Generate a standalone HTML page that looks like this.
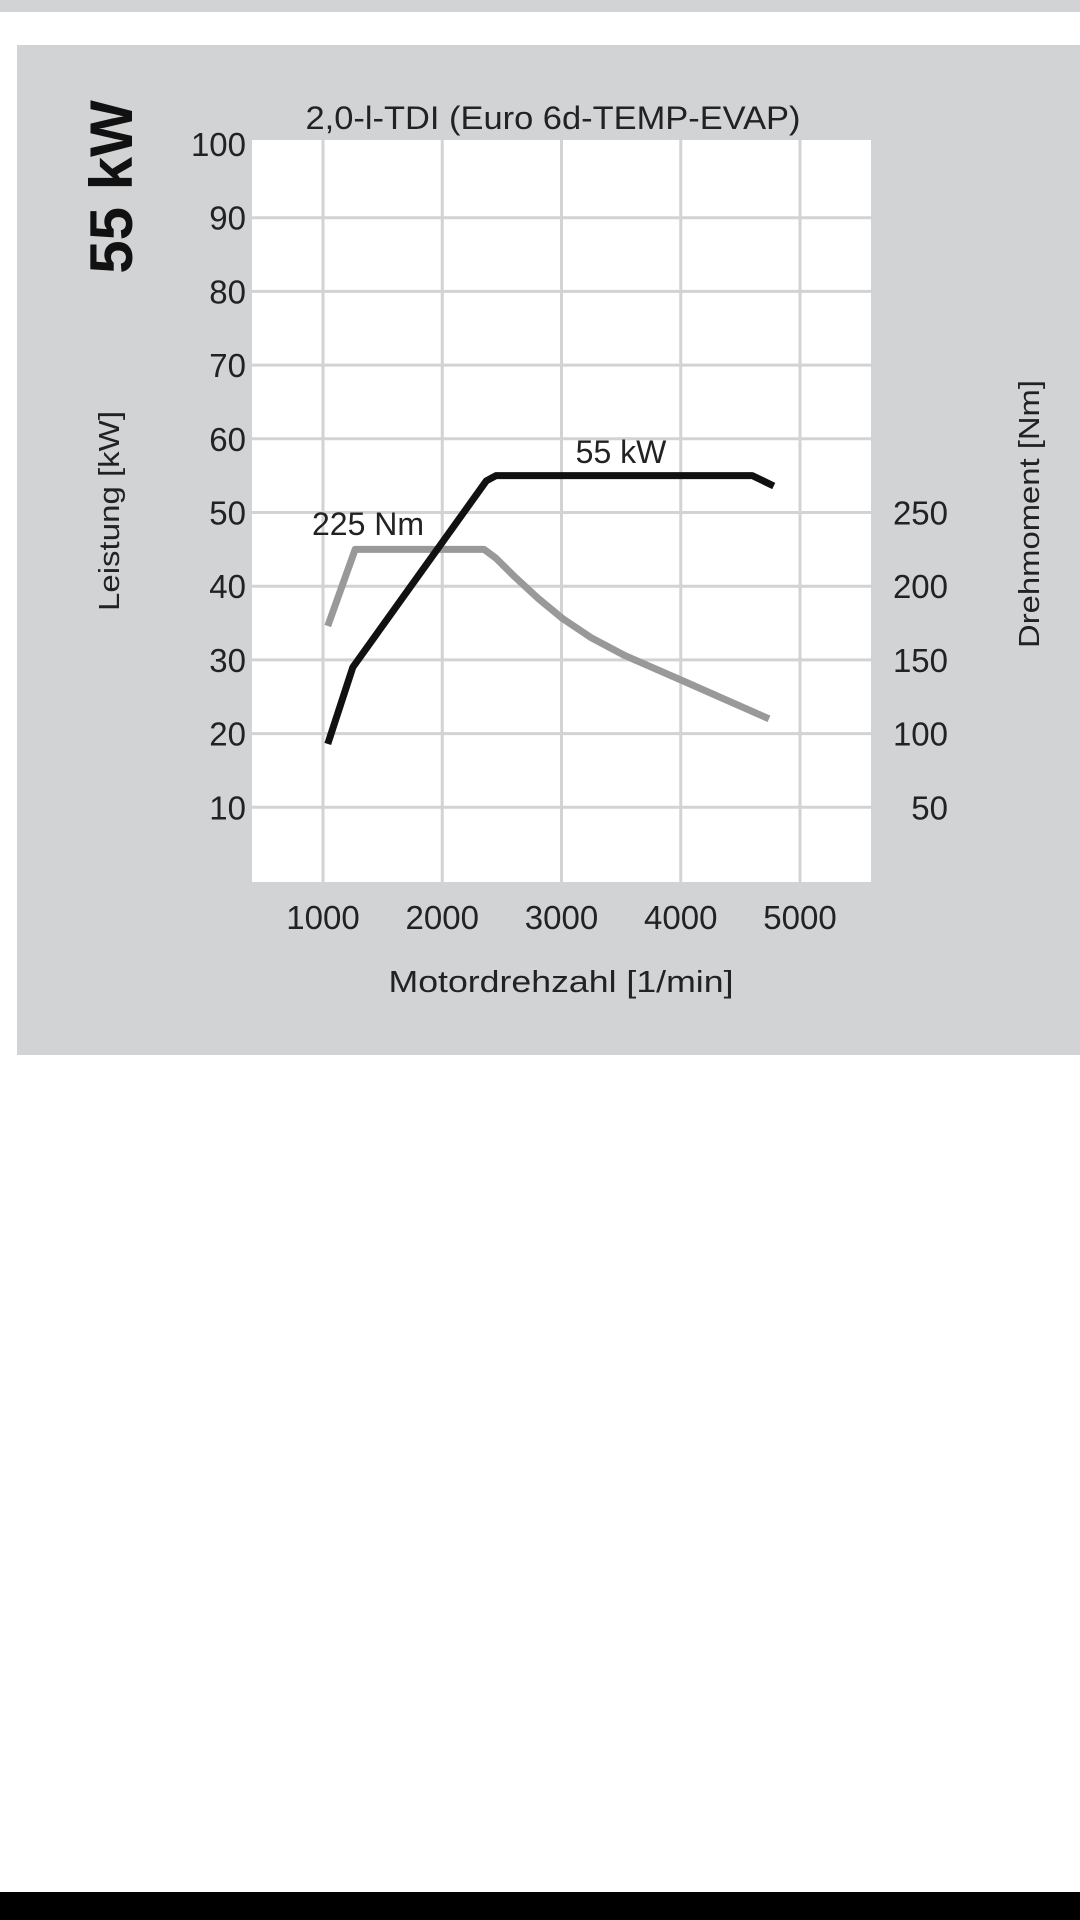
<!DOCTYPE html>
<html><head><meta charset="utf-8"><style>
html,body{margin:0;padding:0;background:#fff;}
body{width:1080px;height:1920px;position:relative;overflow:hidden;font-family:"Liberation Sans",sans-serif;}
</style></head><body>
<div style="position:absolute;left:0;top:0;width:1080px;height:12px;background:#d1d3d5"></div>
<div style="position:absolute;left:0;top:1892px;width:1080px;height:28px;background:#000"></div>
<svg id="chart" width="1080" height="1920" style="position:absolute;left:0;top:0">
<rect x="17" y="45" width="1063" height="1010" fill="#d1d3d5"/>
<rect x="252" y="140" width="619" height="742" fill="#fff"/>
<g id="grid"></g><g id="series"></g><g id="labels" font-family="Liberation Sans, sans-serif" fill="#222"></g>
</svg>
<script>
const rpmTicks = [1000, 2000, 3000, 4000, 5000];
const kwTicks = [10, 20, 30, 40, 50, 60, 70, 80, 90, 100];
const nmTicks = [50, 100, 150, 200, 250];
const powerRpm = [1040, 1250, 2370, 2450, 4600, 4780];
const powerKw = [18.6, 29, 54.3, 55, 55, 53.6];
const torqueRpm = [1040, 1270, 2350, 2450, 2600, 2800, 3010, 3250, 3530, 4040, 4740];
const torqueNm = [173, 225, 225, 219, 207, 192, 178, 165, 153, 135, 110];
const NS = 'http://www.w3.org/2000/svg';
const X = r => 323 + (r - 1000) * 0.11925;
const Y = k => 881 - k * 7.37;
const YN = n => Y(n / 5);
function mk(tag, attrs, parent, text) {
  const e = document.createElementNS(NS, tag);
  for (const k in attrs) e.setAttribute(k, attrs[k]);
  if (text !== undefined) e.textContent = text;
  parent.appendChild(e); return e;
}
const grid = document.getElementById('grid'), series = document.getElementById('series'), labels = document.getElementById('labels');
rpmTicks.forEach(r => {
  const l = mk('line', {x1: X(r), x2: X(r), y1: 140, y2: 882, stroke: '#d3d3d3', 'stroke-width': 3}, grid);
  
  
  const t = mk('text', {x: X(r), y: 929, 'font-size': 33, 'text-anchor': 'middle'}, labels, r);
  
  
});
kwTicks.forEach(k => {
  if (k < 100) {
    const l = mk('line', {x1: 252, x2: 871, y1: Y(k), y2: Y(k), stroke: '#d3d3d3', 'stroke-width': 3}, grid);
    
    
  }
  const t = mk('text', {x: 246, y: Y(k) + 12, 'font-size': 33, 'text-anchor': 'end'}, labels, k);
  
  
});
nmTicks.forEach(n => {
  const t = mk('text', {x: 948, y: YN(n) + 12, 'font-size': 33, 'text-anchor': 'end'}, labels, n);
  
  
});
const tq = mk('polyline', {points: torqueRpm.map((r, i) => X(r) + ',' + YN(torqueNm[i])).join(' '), fill: 'none', stroke: '#999', 'stroke-width': 7, 'stroke-linejoin': 'round'}, series);


const pw = mk('polyline', {points: powerRpm.map((r, i) => X(r) + ',' + Y(powerKw[i])).join(' '), fill: 'none', stroke: '#111', 'stroke-width': 7, 'stroke-linejoin': 'round'}, series);


function txt(name, attrs, s) {
  const t = mk('text', attrs, labels, s);
  
  
  return t;
}
txt('chart-title', {x: 553, y: 129, 'font-size': 32, 'text-anchor': 'middle', textLength: 495, lengthAdjust: 'spacingAndGlyphs'}, '2,0-l-TDI (Euro 6d-TEMP-EVAP)');
txt('x-axis-title', {x: 561, y: 992, 'font-size': 31, 'text-anchor': 'middle', textLength: 345, lengthAdjust: 'spacingAndGlyphs'}, 'Motordrehzahl [1/min]');
txt('power-heading', {x: 0, y: 0, 'font-size': 60, 'font-weight': 'bold', 'text-anchor': 'middle', transform: 'translate(132,187) rotate(-90)', fill: '#111'}, '55 kW');
txt('y-left-axis-title', {x: 0, y: 0, 'font-size': 29, 'text-anchor': 'middle', transform: 'translate(119,511) rotate(-90)', textLength: 200, lengthAdjust: 'spacingAndGlyphs'}, 'Leistung [kW]');
txt('y-right-axis-title', {x: 0, y: 0, 'font-size': 29, 'text-anchor': 'middle', transform: 'translate(1039,514) rotate(-90)', textLength: 268, lengthAdjust: 'spacingAndGlyphs'}, 'Drehmoment [Nm]');
txt('power-annotation', {x: 621, y: 463, 'font-size': 32, 'text-anchor': 'middle'}, '55 kW');
txt('torque-annotation', {x: 368, y: 535, 'font-size': 32, 'text-anchor': 'middle'}, '225 Nm');
</script>
</body></html>
